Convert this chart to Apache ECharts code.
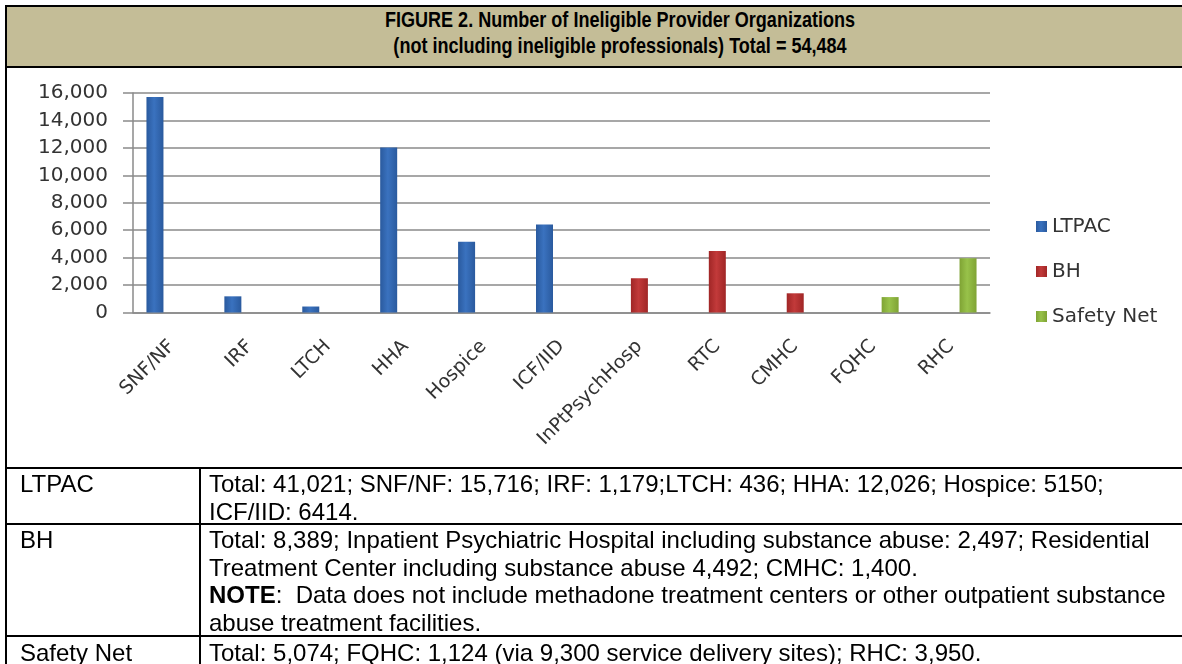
<!DOCTYPE html>
<html>
<head>
<meta charset="utf-8">
<script src="https://cdn.jsdelivr.net/npm/echarts@6/dist/echarts.min.js"></script>
<style>
  html, body { margin: 0; padding: 0; width: 1182px; height: 664px; overflow: hidden; background: #fff; }
  #chart { position: absolute; left: 0; top: 0; width: 1182px; height: 664px; }
  .ln { position: absolute; background: #000; }
  .title { position: absolute; left: 0; top: 7px; width: 1240px; text-align: center;
           font-family: 'Liberation Sans', Arial, sans-serif; font-weight: bold; font-size: 22px;
           line-height: 25.5px; color: #000; transform: scaleX(0.82); transform-origin: 620px 0; }
  .cell { position: absolute; font-family: 'Liberation Sans', Arial, sans-serif; font-size: 24px;
          line-height: 27.5px; color: #000; white-space: nowrap; }
</style>
</head>
<body>
<div id="chart"></div>

<div style="position:absolute;left:7px;top:7px;width:1175px;height:59px;background:#C4BD97;"></div>
<div class="ln" style="left:5px;top:5px;width:1177px;height:2px;"></div>
<div class="ln" style="left:5px;top:5px;width:2px;height:659px;"></div>
<div class="ln" style="left:5px;top:66px;width:1177px;height:2px;"></div>
<div class="title">FIGURE 2. Number of Ineligible Provider Organizations<br>(not including ineligible professionals) Total = 54,484</div>

<div class="ln" style="left:5px;top:467px;width:1177px;height:2px;"></div>
<div class="ln" style="left:5px;top:523px;width:1177px;height:2px;"></div>
<div class="ln" style="left:5px;top:635px;width:1177px;height:2px;"></div>
<div class="ln" style="left:199px;top:467px;width:2px;height:197px;"></div>

<div class="cell" style="left:20px;top:470px;">LTPAC</div>
<div class="cell" style="left:209px;top:470px;">Total: 41,021; SNF/NF: 15,716; IRF: 1,179;LTCH: 436; HHA: 12,026; Hospice: 5150;<br>ICF/IID: 6414.</div>
<div class="cell" style="left:20px;top:526px;">BH</div>
<div class="cell" style="left:209px;top:526px;">Total: 8,389; Inpatient Psychiatric Hospital including substance abuse: 2,497; Residential<br>Treatment Center including substance abuse 4,492; CMHC: 1,400.<br><b>NOTE</b>:&nbsp; Data does not include methadone treatment centers or other outpatient substance<br>abuse treatment facilities.</div>
<div class="cell" style="left:20px;top:639px;">Safety Net</div>
<div class="cell" style="left:209px;top:639px;">Total: 5,074; FQHC: 1,124 (via 9,300 service delivery sites); RHC: 3,950.</div>

<script>
const categories = ['SNF/NF', 'IRF', 'LTCH', 'HHA', 'Hospice', 'ICF/IID', 'InPtPsychHosp', 'RTC', 'CMHC', 'FQHC', 'RHC'];
const ltpacValues = [15716, 1179, 436, 12026, 5150, 6414, null, null, null, null, null];
const bhValues = [null, null, null, null, null, null, 2497, 4492, 1400, null, null];
const safetyNetValues = [null, null, null, null, null, null, null, null, null, 1124, 3950];
const seriesNames = ['LTPAC', 'BH', 'Safety Net'];
const yTicks = { min: 0, max: 16000, interval: 2000 };

function grad(edge, mid) {
  return new echarts.graphic.LinearGradient(0, 0, 1, 0, [
    { offset: 0, color: edge }, { offset: 0.45, color: mid }, { offset: 1, color: edge }
  ]);
}
const colors = [grad('#2a5a9e', '#3a72bf'), grad('#a02626', '#c23a3a'), grad('#7fa334', '#98c24a')];

const chart = echarts.init(document.getElementById('chart'), null, { renderer: 'canvas' });
const font = "'DejaVu Sans', Verdana, sans-serif";
chart.setOption({
  animation: false,
  backgroundColor: '#fff',
  grid: { left: 133, top: 93, width: 857, height: 219.5, containLabel: false },
  legend: {
    orient: 'vertical', left: 1031, top: 211, itemWidth: 11, itemHeight: 11, itemGap: 24,
    icon: 'rect',
    textStyle: { fontFamily: font, fontSize: 20, color: '#333', lineHeight: 21 },
    data: seriesNames
  },
  xAxis: {
    type: 'category', data: categories,
    axisLine: { lineStyle: { color: '#8a8a8a', width: 1.5 } },
    axisTick: { length: 8, lineStyle: { color: '#8a8a8a', width: 1.5 } },
    axisLabel: { rotate: 45, interval: 0, margin: 31, fontFamily: font, fontSize: 19, color: '#333' }
  },
  yAxis: {
    type: 'value', min: yTicks.min, max: yTicks.max, interval: yTicks.interval,
    axisLine: { show: true, lineStyle: { color: '#8a8a8a', width: 1.5 } },
    axisTick: { show: true, length: 10, lineStyle: { color: '#8a8a8a', width: 1.5 } },
    splitLine: { lineStyle: { color: '#8a8a8a', width: 1.5 } },
    axisLabel: { margin: 25, fontFamily: font, fontSize: 20, color: '#333',
      formatter: v => v.toLocaleString('en-US') }
  },
  series: [
    { name: seriesNames[0], type: 'bar', data: ltpacValues, barWidth: 17, barGap: '0%', itemStyle: { color: colors[0] } },
    { name: seriesNames[1], type: 'bar', data: bhValues, barWidth: 17, barGap: '0%', itemStyle: { color: colors[1] } },
    { name: seriesNames[2], type: 'bar', data: safetyNetValues, barWidth: 17, barGap: '0%', itemStyle: { color: colors[2] } }
  ]
});
</script>
</body>
</html>
